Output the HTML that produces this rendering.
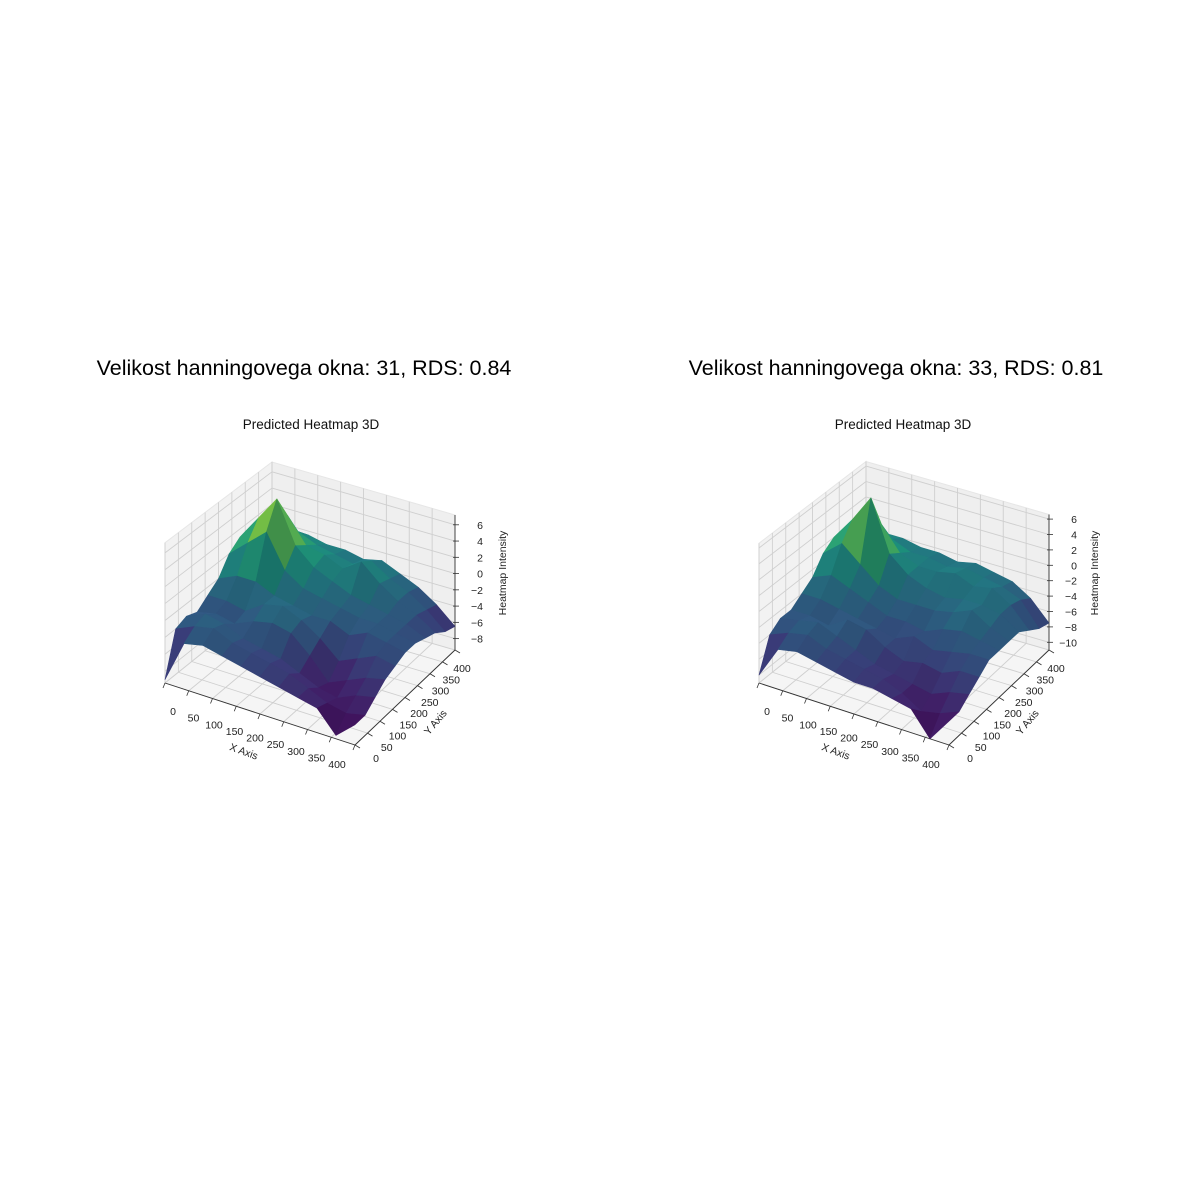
<!DOCTYPE html>
<html><head><meta charset="utf-8"><style>
body{margin:0;background:#fff;}
svg{display:block;font-family:"Liberation Sans","DejaVu Sans",sans-serif;}
</style></head><body>
<svg id="fig" width="1200" height="1200" viewBox="0 0 1200 1200">
<rect width="1200" height="1200" fill="#fff"/>
</svg>
<script>
const xTicks=[0,50,100,150,200,250,300,350,400];
const yTicks=[0,50,100,150,200,250,300,350,400];
const zTicksLeft=[-8,-6,-4,-2,0,2,4,6];
const zTicksRight=[-10,-8,-6,-4,-2,0,2,4,6];
const gridX=[0,40,80,120,160,200,240,280,320,360,400];
const gridY=[0,40,80,120,160,200,240,280,320,360,400];
const zLeft=[
[-9,-4,-3.5,-4,-4.5,-5,-5.5,-6,-6.5,-9,-7],
[-4,-3,-2.5,-3.5,-4,-4.5,-5,-6,-7,-7.5,-7],
[-3.5,-2.5,-3,-4,-4.5,-5,-6,-7,-7.5,-6.5,-6],
[-4,-3.5,-4,-3,-2.5,-3,-5,-7.5,-6.5,-5.5,-5],
[-3,-3,-3.5,-2,-1.5,-2.5,-4,-6,-5,-4,-4.5],
[-2,-1,-1,-2,-2.5,-3,-3,-4,-3,-3.5,-4],
[0,2,4,0,-1.5,-2,-2.5,-3,-3,-3.5,-4],
[1,4,7,2,0,-1,-2,-2.5,-3,-3.5,-4.5],
[0,2,4,1,0.5,-0.5,1,-1,-2.5,-3.5,-5],
[-1,0,1,0,-0.5,-1,0,-1.5,-2.5,-4,-6],
[-2,-1,-0.5,-1,-1,-1.5,-1,-2,-3,-4.5,-6.5]];
const zRight=[
[-10,-6,-5.5,-6,-6.5,-7,-7,-7.5,-8,-11,-8],
[-6,-5,-4.5,-5.5,-6,-6.5,-7,-8,-9.5,-9,-8],
[-5,-4.5,-4,-5,-6,-7,-7.5,-8,-8.5,-7.5,-7],
[-5,-5,-5.5,-4,-4.5,-6,-7,-6.5,-7,-6,-6],
[-4,-4,-4.5,-5,-5.5,-6,-5,-6,-5.5,-5,-5],
[-3,-2,-3,-4,-5,-5,-5.5,-4.5,-4,-4.5,-5],
[-1,1,-1,-3,-4,-4,-4,-3.5,-2.5,-4,-5],
[0,3,6.5,0,-2,-3,-3.5,-3,-3,-3.5,-5],
[-1,1,2,-1,-2,-2,-1.5,-2.5,-2,-3.5,-6],
[-2,-1,-1,-2,-2,-2.5,-2,-2.5,-3,-4,-7],
[-3,-2,-2,-2.5,-2.5,-3,-2.5,-3,-3.5,-5,-7.5]];

const NS="http://www.w3.org/2000/svg";
const fig=document.getElementById('fig');
function mk(tag,attrs,parent){const e=document.createElementNS(NS,tag);for(const k in attrs)e.setAttribute(k,attrs[k]);(parent||fig).appendChild(e);return e;}
const VIR=[[68,1,84],[72,40,120],[62,74,137],[49,104,142],[38,130,142],[31,158,137],[53,183,121],[110,206,88],[181,222,43],[253,231,37]];
function viridis(t,sh){t=Math.max(0,Math.min(1,t));const p=t*(VIR.length-1);const i=Math.min(VIR.length-2,Math.floor(p));const f=p-i;const a=VIR[i],b=VIR[i+1];
  const cl=v=>Math.min(255,Math.round(v*sh));
  return `rgb(${cl(a[0]+(b[0]-a[0])*f)},${cl(a[1]+(b[1]-a[1])*f)},${cl(a[2]+(b[2]-a[2])*f)})`;}

function chart(cfg){
  const g=mk('g',{});
  
  
  const {A,B,C,D,zmin,zmax,zsF,zsB}=cfg;
  function proj(x,y,z){const u=x/400,v=y/400;
    const px=A[0]*(1-u)*(1-v)+B[0]*u*(1-v)+C[0]*u*v+D[0]*(1-u)*v;
    const py=A[1]*(1-u)*(1-v)+B[1]*u*(1-v)+C[1]*u*v+D[1]*(1-u)*v;
    const zs=zsF*(1-v)+zsB*v;return [px,py-(z-zmin)*zs];}
  const pts=a=>a.map(p=>p[0].toFixed(1)+','+p[1].toFixed(1)).join(' ');
  const lw=mk('polygon',{points:pts([proj(0,0,zmin),proj(0,400,zmin),proj(0,400,zmax),proj(0,0,zmax)]),fill:'#f2f2f2',stroke:'#e6e6e6'},g);
  
  const bw=mk('polygon',{points:pts([proj(0,400,zmin),proj(400,400,zmin),proj(400,400,zmax),proj(0,400,zmax)]),fill:'#efefef',stroke:'#e6e6e6'},g);
  
  const fl=mk('polygon',{points:pts([proj(0,0,zmin),proj(400,0,zmin),proj(400,400,zmin),proj(0,400,zmin)]),fill:'#f5f5f5',stroke:'#e6e6e6'},g);
  
  const gl={stroke:'#cfcfcf','stroke-width':0.9,fill:'none'};
  function line(a,b){return mk('line',Object.assign({x1:a[0],y1:a[1],x2:b[0],y2:b[1]},gl),g);}
  yTicks.forEach(t=>{line(proj(0,t,zmin),proj(0,t,zmax));line(proj(0,t,zmin),proj(400,t,zmin));});
  xTicks.forEach(t=>{line(proj(t,400,zmin),proj(t,400,zmax));line(proj(t,0,zmin),proj(t,400,zmin));});
  cfg.zt.forEach(t=>{line(proj(0,0,t),proj(0,400,t));line(proj(0,400,t),proj(400,400,t));});
  const ax={stroke:'#333','stroke-width':0.9};
  function aline(a,b,n){const l=mk('line',Object.assign({x1:a[0],y1:a[1],x2:b[0],y2:b[1]},ax),g);}
  aline(proj(0,0,zmin),proj(400,0,zmin),'x-axis-line');
  aline(proj(400,0,zmin),proj(400,400,zmin),'y-axis-line');
  aline(proj(400,400,zmin),proj(400,400,zmax),'z-axis-line');
  const data=cfg.Z;let dmin=Infinity,dmax=-Infinity;
  data.forEach(r=>r.forEach(v=>{dmin=Math.min(dmin,v);dmax=Math.max(dmax,v);}));
  const quads=[];
  for(let j=0;j<gridY.length-1;j++)for(let i=0;i<gridX.length-1;i++){
    const x0=gridX[i],x1=gridX[i+1],y0=gridY[j],y1=gridY[j+1];
    const zz=[data[j][i],data[j][i+1],data[j+1][i+1],data[j+1][i]];
    const zavg=(zz[0]+zz[1]+zz[2]+zz[3])/4;
    const near=0.5*(x0+x1)/2-0.866*(y0+y1)/2;
    const dzx=((zz[1]+zz[2])-(zz[0]+zz[3]))/2, dzy=((zz[2]+zz[3])-(zz[0]+zz[1]))/2;
    const sh=Math.max(0.72,Math.min(1.08,0.9+0.025*dzx-0.025*dzy));
    quads.push({near,zavg,sh,p:[proj(x0,y0,zz[0]),proj(x1,y0,zz[1]),proj(x1,y1,zz[2]),proj(x0,y1,zz[3])]});
  }
  quads.sort((a,b)=>a.near-b.near);
  quads.forEach(q=>{const t=Math.pow((q.zavg-dmin)/(dmax-dmin),1.15);const c=viridis(t,q.sh);
    const p=mk('polygon',{points:pts(q.p),fill:c,stroke:c,'stroke-width':0.6,'stroke-linejoin':'round'},g);
    
    });
  const tl={'font-size':10.5,fill:'#222','text-anchor':'middle'};
  xTicks.forEach((t,k)=>{const a=proj(t,0,zmin);mk('line',{x1:a[0],y1:a[1],x2:a[0]-2,y2:a[1]+5,stroke:'#333','stroke-width':0.8},g);
    const f=k/(xTicks.length-1);const lx=cfg.xl0[0]+(cfg.xl1[0]-cfg.xl0[0])*f,ly=cfg.xl0[1]+(cfg.xl1[1]-cfg.xl0[1])*f;
    const e=mk('text',Object.assign({x:lx,y:ly+4},tl),g);e.textContent=t;
    });
  yTicks.forEach((t,k)=>{const a=proj(400,t,zmin);mk('line',{x1:a[0],y1:a[1],x2:a[0]+5,y2:a[1]+3,stroke:'#333','stroke-width':0.8},g);
    const f=k/(yTicks.length-1);const lx=cfg.yl0[0]+(cfg.yl1[0]-cfg.yl0[0])*f,ly=cfg.yl0[1]+(cfg.yl1[1]-cfg.yl0[1])*f;
    const e=mk('text',Object.assign({x:lx,y:ly+4},tl),g);e.textContent=t;
    });
  cfg.zt.forEach(t=>{const a=proj(400,400,t);mk('line',{x1:a[0]-2,y1:a[1],x2:a[0]+4,y2:a[1],stroke:'#333','stroke-width':0.8},g);
    const e=mk('text',{x:a[0]+28,y:a[1]+4,'font-size':10.5,fill:'#222','text-anchor':'end'},g);e.textContent=(t<0?'\u2212'+(-t):t);
    });
  const ox=cfg.ox;
  let e=mk('text',{x:244+ox,y:755,'font-size':10.5,fill:'#222','text-anchor':'middle',transform:`rotate(20 ${244+ox} 751)`},g);e.textContent='X Axis';
  
  e=mk('text',{x:435+ox,y:726,'font-size':10.5,fill:'#222','text-anchor':'middle',transform:`rotate(-50 ${435+ox} 722)`},g);e.textContent='Y Axis';
  
  e=mk('text',{x:502+ox,y:577,'font-size':10.5,fill:'#222','text-anchor':'middle',transform:`rotate(-90 ${502+ox} 573)`},g);e.textContent='Heatmap Intensity';
  
  e=mk('text',{x:304+ox,y:375,'font-size':21.5,fill:'#000','text-anchor':'middle'},g);e.textContent=cfg.title;
  
  e=mk('text',{x:311+ox,y:429,'font-size':13.5,fill:'#111','text-anchor':'middle'},g);e.textContent='Predicted Heatmap 3D';
  
}
chart({name:'left-chart',ox:0,A:[165,683],B:[355,745],C:[455,650],D:[272,597],zmin:-9.4,zmax:7.2,zsF:8.45,zsB:8.13,zt:zTicksLeft,Z:zLeft,
  xl0:[173,711],xl1:[337,764],yl0:[376,758],yl1:[462,668],title:'Velikost hanningovega okna: 31, RDS: 0.84'});
chart({name:'right-chart',ox:592,A:[759,683],B:[949,745],C:[1049,650],D:[866,597],zmin:-11,zmax:6.6,zsF:7.94,zsB:7.7,zt:zTicksRight,Z:zRight,
  xl0:[767,711],xl1:[931,764],yl0:[970,758],yl1:[1056,668],title:'Velikost hanningovega okna: 33, RDS: 0.81'});
</script>
</body></html>
